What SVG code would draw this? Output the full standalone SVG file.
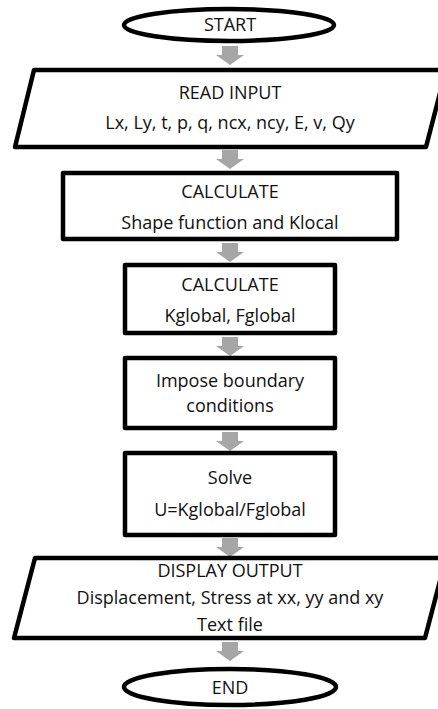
<svg xmlns="http://www.w3.org/2000/svg" width="438" height="709" viewBox="0 0 438 709">
<style>
.s{fill:#fff;stroke:#000;stroke-width:4.5;stroke-linejoin:round}
.t{font-family:"Open Sans","Noto Sans",sans-serif;font-size:18px;fill:#111;text-anchor:middle}
.a{fill:#a6a6a6}
</style>
<rect width="438" height="709" fill="#fff"/>
<g id="connectors">
<path class="a" d="M222,46h16v9h6l-14,10l-14,-10h6z"/>
<path class="a" d="M222,150h16v9h6l-14,10l-14,-10h6z"/>
<path class="a" d="M222,243h16v9h6l-14,10l-14,-10h6z"/>
<path class="a" d="M222,337h16v9h6l-14,10l-14,-10h6z"/>
<path class="a" d="M222,432h16v9h6l-14,10l-14,-10h6z"/>
<path class="a" d="M222,538h16v9h6l-14,10l-14,-10h6z"/>
<path class="a" d="M222,642h16v9h6l-14,10l-14,-10h6z"/>
</g>
<g id="start">
<ellipse class="s" cx="229" cy="25" rx="105" ry="16"/>
<text class="t" x="230" y="31">START</text>
</g>
<g id="read-input">
<polygon class="s" points="34,70 446,70 426,147 15,147"/>
<text class="t" x="230" y="99">READ INPUT</text>
<text class="t" x="230" y="129">Lx, Ly, t, p, q, ncx, ncy, E, v, Qy</text>
</g>
<g id="calc-klocal">
<rect class="s" x="63" y="173" width="334" height="66"/>
<text class="t" x="230" y="198">CALCULATE</text>
<text class="t" x="230" y="229">Shape function and Klocal</text>
</g>
<g id="calc-kglobal">
<rect class="s" x="125" y="265" width="210" height="68"/>
<text class="t" x="230" y="291">CALCULATE</text>
<text class="t" x="230" y="322">Kglobal, Fglobal</text>
</g>
<g id="boundary">
<rect class="s" x="125" y="358" width="210" height="70"/>
<text class="t" x="230" y="387">Impose boundary</text>
<text class="t" x="230" y="412">conditions</text>
</g>
<g id="solve">
<rect class="s" x="125" y="453" width="210" height="82"/>
<text class="t" x="230" y="484">Solve</text>
<text class="t" x="230" y="516">U=Kglobal/Fglobal</text>
</g>
<g id="display-output">
<polygon class="s" points="35,558 446,558 425,638 14,638"/>
<text class="t" x="230" y="577">DISPLAY OUTPUT</text>
<text class="t" x="230" y="604">Displacement, Stress at xx, yy and xy</text>
<text class="t" x="230" y="631">Text file</text>
</g>
<g id="end">
<ellipse class="s" cx="230" cy="687" rx="106" ry="18"/>
<text class="t" x="230" y="694">END</text>
</g>
</svg>
